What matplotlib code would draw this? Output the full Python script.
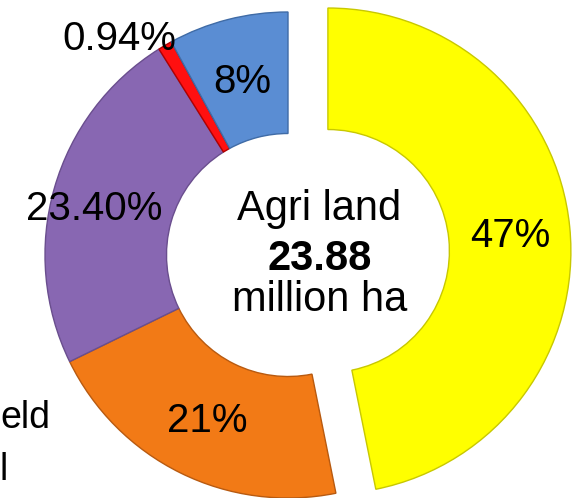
import matplotlib
matplotlib.use("Agg")
import matplotlib.pyplot as plt

# Agricultural land split (share of 23.88 million ha)
shares = [47, 21, 23.40, 0.94, 8]
share_labels = ["47%", "21%", "23.40%", "0.94%", "8%"]
slice_colors = ["#FFFF00", "#F27A16", "#8867B2", "#FF1010", "#5A8DD3"]
edge_colors = ["#C8C800", "#B85A10", "#6A4E8E", "#B00000", "#3F6BA6"]
explode = [0.165, 0, 0, 0, 0]
total_text = "23.88"

W, H = 577, 498
CX, CY, R = 288, 255, 243  # donut centre / radius in pixels


def px(x, y):
    # pixel position (from top-left) -> data coords
    return (x - CX) / R, (CY - y) / R


plt.rcParams["font.family"] = ["Liberation Sans", "DejaVu Sans"]

fig = plt.figure(figsize=(W / 100, H / 100), dpi=100)
ax = fig.add_axes([0, 0, 1, 1])

wedges, _ = ax.pie(shares, colors=slice_colors, explode=explode,
                   startangle=90, counterclock=False, radius=1,
                   wedgeprops=dict(width=0.5, linewidth=1.0))
for w, ec in zip(wedges, edge_colors):
    w.set_edgecolor(ec)

ax.set_xlim(-CX / R, (W - CX) / R)
ax.set_ylim(-(H - CY) / R, CY / R)
ax.set_aspect("auto")
ax.axis("off")

label_pos = [(510, 236), (207, 421), (94, 209), (119, 39), (242, 82)]
for lab, (x, y) in zip(share_labels, label_pos):
    ax.text(*px(x, y), lab, fontsize=29, ha="center", va="center")

ax.text(*px(319, 209), "Agri land", fontsize=30, ha="center", va="center")
ax.text(*px(320, 259), total_text, fontsize=30, fontweight="bold",
        ha="center", va="center")
ax.text(*px(320, 300), "million ha", fontsize=30, ha="center", va="center")

# legend text cut off by the left edge in the source; keep the visible part
ax.text(*px(0, 418), "eld", fontsize=27, ha="left", va="center")
ax.text(*px(0, 470), "l", fontsize=27, ha="left", va="center")

fig.savefig("out.png", dpi=100)
